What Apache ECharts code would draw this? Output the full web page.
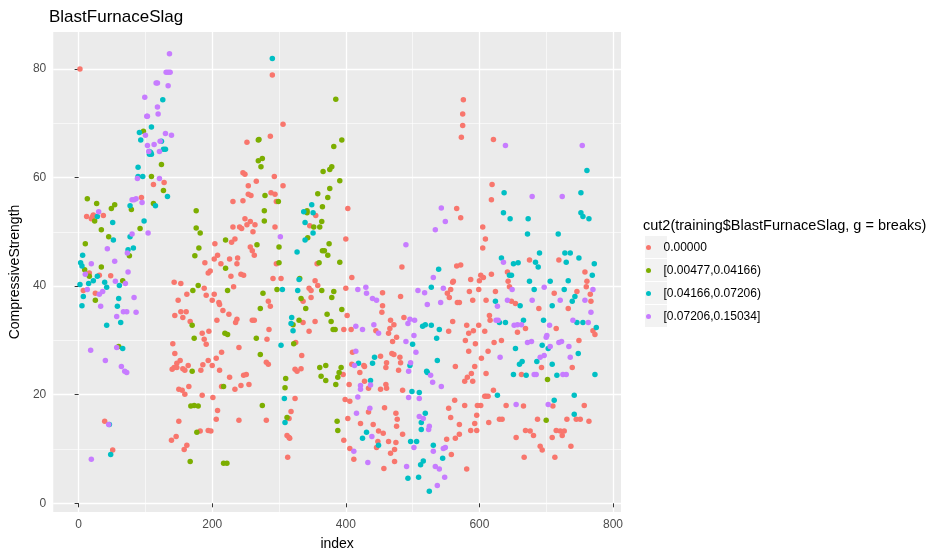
<!DOCTYPE html>
<html>
<head>
<meta charset="utf-8">
<title>BlastFurnaceSlag</title>
<script src="https://cdn.jsdelivr.net/npm/echarts@6.0.0/dist/echarts.min.js"></script>
<style>
html, body { margin: 0; padding: 0; background: #fff; }
#chart { width: 945px; height: 556px; }
</style>
</head>
<body>
<div id="chart"></div>
<script>
// legend levels of cut2(training$BlastFurnaceSlag, g = breaks)
var levels = ['0.00000', '[0.00477,0.04166)', '[0.04166,0.07206)', '[0.07206,0.15034]'];
var xTicks = [0, 200, 400, 600, 800];
var xMinor = [100, 300, 500, 700];
var yTicks = [0, 20, 40, 60, 80];
var yMinor = [10, 30, 50, 70];

// [index, CompressiveStrength]
var slagZero = [
  [2,80.0],[12,52.8],[21,52.8],[22,53.1],[19,52.4],[37,53.0],[16,42.4],[31,42.0],[48,41.9],
  [128,59.1],[112,58.7],[94,56.3],[231,55.6],[246,55.7],[252,66.5],[246,60.9],[249,60.6],
  [231,50.9],[241,50.9],[244,50.6],[249,52.4],[234,48.7],[229,48.1],[204,47.8],[208,45.7],
  [203,45.0],[213,44.1],[226,45.0],[237,44.1],[238,45.2],[189,44.3],[197,42.8],[194,42.4],
  [243,42.2],[247,42.0],
  [228,41.8],[7,39.2],[25,38.7],[39,15.1],[51,9.8],[143,40.7],[153,40.5],[188,39.6],[162,38.5],
  [191,38.3],[203,38.5],[232,39.9],[149,37.4],[200,37.4],[210,37.0],[211,36.6],[216,35.5],
  [225,34.8],[153,35.3],[161,35.3],[144,34.6],[156,34.2],[167,33.5],[207,33.7],[237,33.9],
  [235,33.3],[195,31.7],[185,31.3],[188,30.2],[191,29.3],[141,29.4],[240,28.7],[214,27.8],
  [144,27.6],[206,26.7],[194,26.3],[152,26.3],[147,25.8],[164,25.4],[186,25.5],[200,25.4],
  [140,24.7],[143,25.0],[147,25.0],[156,24.8],[159,24.5],[183,24.5],[211,24.5],[226,23.2],
  [247,23.6],[165,21.5],[150,21.0],[155,20.8],[159,20.1],[214,21.5],[243,21.7],[234,21.0],
  [185,19.9],[201,19.5],[208,17.1],[206,15.5],[240,15.3],[150,15.1],[182,13.3],[194,13.4],
  [198,13.3],[146,12.3],[139,11.6],[162,10.7],[158,9.9],
  [290,78.9],[306,69.8],[287,67.6],[293,60.2],[254,58.5],[266,59.3],[306,58.5],[254,56.9],
  [258,56.7],[288,57.2],[294,56.9],[296,55.6],[403,54.3],[355,53.0],[257,51.9],[252,51.3],
  [264,51.3],[294,50.9],[346,51.1],[261,50.0],[400,48.7],[257,47.2],[260,46.5],[263,45.7],
  [296,44.1],[357,44.1],[484,43.5],
  [251,23.7],[255,21.9],[291,41.4],[303,41.4],[354,41.0],[358,40.1],[409,41.6],[345,39.6],
  [348,39.2],[400,39.6],[455,38.8],[482,38.1],[348,37.9],[336,37.2],[284,37.2],[287,36.3],
  [455,36.4],[454,35.2],[402,34.6],[260,33.7],[263,33.7],[336,33.3],[354,33.5],[467,33.7],
  [472,32.9],[487,34.2],[285,32.0],[345,31.7],[397,32.0],[408,32.0],[445,31.8],[466,32.2],
  [464,31.3],[476,30.6],[470,29.8],[282,30.2],[325,29.6],[334,27.2],[281,26.0],[284,25.6],
  [410,27.8],[452,27.1],[469,27.6],[472,27.4],[461,25.9],[460,25.0],[481,26.9],[482,25.9],
  [479,24.5],[409,25.6],[427,25.4],[428,25.2],[421,24.1],[324,24.7],[327,24.3],[333,24.8],
  [396,23.7],[405,21.9],[428,22.5],[434,21.2],[452,21.0],[460,21.9],[461,21.2],[485,20.8],
  [399,19.1],[406,18.8],[324,19.3],[458,17.6],[434,16.8],[475,16.6],[318,16.9],[315,15.6],
  [281,15.3],[403,15.6],[477,15.5],[422,14.7],[441,14.5],[476,14.2],[449,13.3],[456,12.9],
  [485,12.7],[312,12.5],[315,12.1],[316,12.0],[397,11.6],[448,11.4],[446,10.3],[464,11.4],
  [475,11.2],[406,10.1],[412,8.1],[473,9.9],[467,9.2],[473,7.7],[457,6.4],[313,8.5],
  [576,74.3],[575,71.7],[575,69.6],[573,67.4],[621,67.0],[619,58.7],[618,55.9],[566,54.3],
  [572,52.6],[605,50.9],[609,48.7],[605,47.0],[675,44.8],[719,44.8],[566,43.7],[572,43.9],
  [642,42.6],[758,42.6],[602,42.0],[618,42.2],
  [606,41.6],[560,40.7],[561,40.9],[587,41.2],[600,41.0],[761,40.9],[760,39.9],[557,39.4],
  [552,38.7],[555,37.9],[585,39.0],[599,39.4],[624,39.0],[645,39.9],[643,40.9],[712,38.7],
  [746,39.0],[766,38.5],[767,37.2],[567,37.0],[570,37.0],[590,37.4],[610,37.4],[648,37.2],
  [654,36.8],[689,35.9],[733,35.9],[615,34.6],[616,33.7],[560,33.5],[554,31.7],[581,32.8],
  [599,32.8],[591,31.8],[584,31.3],[608,31.7],[669,32.2],[657,31.5],[715,32.2],[770,31.8],
  [773,31.1],[579,30.0],[594,29.4],[622,29.6],[633,30.0],[749,30.0],[584,28.0],[613,28.0],
  [603,26.7],[564,25.2],[593,25.2],[693,25.0],[739,25.0],[588,23.9],[582,23.2],[578,22.5],
  [590,22.5],[610,23.9],[663,23.7],[621,20.8],[608,19.7],[610,19.7],[613,19.7],[563,19.0],
  [578,18.0],[597,18.0],[602,18.0],[640,18.0],[666,17.9],[710,17.9],[757,18.0],[554,17.5],
  [596,16.2],[557,15.8],[630,15.5],[634,15.5],[687,15.5],[731,15.5],[745,15.5],[751,15.5],
  [764,15.1],[614,14.9],[570,14.5],[593,14.7],[587,13.4],[596,13.4],[570,12.7],[564,12.0],
  [669,13.4],[676,13.3],[681,12.5],[655,12.1],[715,13.4],[721,13.3],[724,12.5],[727,13.3],
  [709,12.1],[551,11.8],[691,10.5],[694,9.8],[737,10.5],[558,9.0],[667,8.5],[713,8.5],[581,6.3]
];

var slagLow = [
  [97,68.5],[124,62.4],[109,60.2],[127,57.6],[112,55.2],[79,54.1],[13,56.1],[27,55.2],[49,54.3],
  [54,55.0],[24,52.0],[34,50.4],[92,50.6],[45,49.1],[10,47.8],[76,45.6],[34,43.5],[9,43.0],
  [176,53.9],[176,50.7],[182,49.8],[174,45.6],[180,47.0],[220,48.5],[220,43.3],
  [16,41.8],[66,41.0],[25,37.4],[60,28.9],[179,40.1],[171,39.2],[223,39.2],[170,32.8],
  [219,31.3],[223,31.1],[173,30.4],[170,24.3],[217,21.5],[168,17.9],[173,18.0],[179,17.9],
  [177,13.1],[167,7.7],[217,7.4],[222,7.4],
  [385,74.4],[269,66.9],[270,67.0],[394,66.9],[382,65.7],[269,63.1],[275,63.5],[273,62.0],
  [366,61.1],[376,61.5],[379,62.0],[391,59.4],[279,56.7],[358,57.0],[373,56.3],[376,58.0],
  [299,55.6],[365,54.6],[278,53.9],[342,53.5],[342,53.9],[278,52.0],[352,50.9],[361,50.9],
  [364,51.9],[343,48.9],[267,47.6],[300,47.2],[375,47.8],[365,46.5],[368,46.5],[373,45.7],
  [300,44.3],[360,44.3],[391,44.4],
  [331,41.4],[297,39.4],[364,39.2],[382,39.0],[276,38.7],[333,37.7],[379,37.9],[272,35.9],
  [340,35.9],[394,35.7],[372,34.8],[321,32.9],[330,33.7],[378,33.5],[381,32.0],[384,32.0],
  [266,30.4],[322,29.4],[272,27.4],[361,25.0],[370,25.4],[393,25.0],[390,24.1],[388,23.2],
  [363,23.4],[370,22.6],[310,23.0],[309,21.3],[385,21.9],[275,18.0],[312,15.8],[387,15.1],
  [388,13.4],[702,22.8],[700,15.3]
];

var slagMid = [
  [126,74.3],[91,68.3],[109,69.3],[93,66.9],[124,66.7],[127,65.2],[130,65.2],[106,64.8],
  [108,64.6],[109,64.3],[106,64.3],[89,61.9],[89,60.2],[96,60.2],[133,56.5],[115,54.8],
  [77,54.8],[28,52.8],[51,51.7],[98,52.0],[52,48.5],[77,49.1],[6,45.7],[74,46.7],[82,47.0],
  [3,44.3],[5,43.7],
  [28,41.8],[2,40.3],[15,40.5],[22,41.0],[39,40.7],[42,39.8],[61,40.1],[7,38.1],[5,36.4],
  [60,37.7],[58,36.3],[63,33.3],[42,32.8],[66,28.5],[46,14.5],[48,9.0],
  [290,81.9],[349,55.0],[337,53.7],[351,53.5],[339,51.7],[351,49.8],[339,48.5],[327,46.3],
  [330,41.2],[305,39.4],[328,39.2],[528,39.8],[319,34.2],[318,33.1],[321,31.8],[515,32.6],
  [519,32.9],[528,32.8],[500,29.3],[303,29.1],[443,26.9],[440,25.8],[496,25.4],[521,24.3],
  [522,24.1],[419,25.8],[437,22.6],[499,20.6],[510,20.4],[308,19.3],[519,16.6],[309,14.9],
  [513,14.9],[513,13.6],[431,13.1],[425,12.0],[449,10.7],[497,11.4],[506,11.4],[531,10.7],
  [516,7.8],[512,7.1],[493,4.6],[509,4.8],[525,2.2],
  [761,61.3],[637,57.2],[752,57.2],[636,53.5],[646,52.4],[673,52.4],[752,53.5],[755,52.8],
  [764,52.4],[672,49.6],[718,49.6],[690,46.1],[728,46.1],[736,46.1],[633,45.2],[730,44.4],
  [749,45.2],[651,44.1],[658,44.3],[684,44.4],[688,43.5],[772,44.1],[539,43.1],[645,42.0],
  [648,42.0],[769,42.0],
  [675,40.9],[706,40.9],[733,41.0],[682,39.4],[727,39.4],[743,38.1],[624,37.2],[661,36.4],
  [709,36.4],[739,37.2],[630,33.3],[639,33.3],[666,33.7],[696,33.7],[746,33.3],[755,33.3],
  [775,32.4],[540,32.0],[536,30.4],[694,29.1],[703,28.5],[654,28.5],[748,27.6],[537,26.3],
  [664,26.1],[660,25.6],[686,26.1],[709,25.6],[651,23.7],[670,23.6],[716,23.6],[773,23.7],
  [627,19.9],[742,19.9],[712,19.0],[742,16.4],[545,8.3]
];

var slagHigh = [
  [136,82.8],[131,79.4],[134,79.4],[137,79.4],[116,77.4],[118,77.4],[134,76.9],[99,74.8],
  [118,73.0],[102,71.3],[103,71.3],[119,71.7],[100,67.8],[130,68.1],[139,67.8],[122,66.7],
  [103,65.9],[113,66.1],[121,64.8],[105,64.8],[121,59.8],[88,59.8],[80,55.9],[83,55.9],
  [86,56.1],[95,55.4],[30,53.7],[80,49.6],[104,49.8],[43,46.9],[73,46.1],[54,44.6],[19,44.1],
  [10,42.2],[74,42.6],
  [70,40.5],[55,40.9],[13,39.4],[31,38.5],[36,39.0],[33,36.3],[83,37.9],[67,35.3],[72,35.3],
  [86,35.2],[57,34.4],[18,28.2],[57,28.7],[40,26.3],[64,25.2],[69,24.3],[72,24.1],[45,14.5],
  [19,8.1],
  [302,49.1],[490,47.6],
  [418,39.4],[430,39.8],[431,38.7],[508,39.2],[518,38.8],[440,37.7],[446,37.4],[522,36.6],
  [493,33.1],[496,33.9],[503,33.7],[442,32.9],[415,32.6],[425,32.0],[449,31.3],[490,29.8],
  [502,30.9],[415,28.0],[505,27.8],[497,25.9],[494,24.3],[527,23.6],[530,22.3],[413,25.4],
  [422,21.7],[422,21.0],[437,21.8],[494,19.5],[510,19.3],[418,19.6],[436,17.5],[416,16.6],
  [510,16.0],[516,15.6],[525,14.2],[524,13.6],[439,12.3],[502,10.3],[531,9.6],[412,9.6],
  [433,7.5],[491,6.8],
  [639,65.9],[754,65.9],[679,56.5],[724,56.5],[543,54.4],[549,51.9],[534,50.4],[636,44.4],
  [531,41.6],[546,39.6],[649,39.4],[697,39.8],[770,39.4],[542,37.0],[627,36.3],[642,37.4],
  [679,37.4],[721,37.4],[758,37.4],[767,35.2],[625,33.7],[628,33.7],[740,33.7],[763,33.3],
  [652,32.8],[657,32.9],[663,32.9],[705,32.8],[672,29.6],[678,29.8],[701,30.9],[700,30.6],
  [719,29.6],[723,29.8],[734,28.9],[706,28.9],[631,26.9],[697,27.2],[691,26.9],[736,26.9],
  [682,23.7],[685,23.7],[725,23.7],[730,23.7],[543,21.5],[655,18.2],[703,18.2],[546,10.1],
  [549,10.3],[534,6.8],[540,6.3],[548,4.8],[537,3.3]
];

var colors = ['#F8766D', '#7CAE00', '#00BFC4', '#C77CFF'];
var groups = [slagZero, slagLow, slagMid, slagHigh];
var font = 'Liberation Sans, Arial, sans-serif';

var myChart = echarts.init(document.getElementById('chart'));

// gray key boxes behind the legend dots (ggplot legend.key)
var keyBoxes = levels.map(function (lv, i) {
    return {
        type: 'rect',
        left: 645,
        top: 236 + i * 23,
        shape: { width: 22, height: 22 },
        style: { fill: '#F2F2F2' },
        silent: true
    };
});

function minorAxis(vals) {
    return {
        type: 'value',
        gridIndex: 0,
        show: true,
        axisLine: { show: false },
        axisLabel: { show: false, customValues: vals },
        axisTick: { show: false, customValues: vals },
        splitLine: { show: true, lineStyle: { color: '#FFFFFF', width: 0.6 } }
    };
}

var xMinorAxis = minorAxis(xMinor);
xMinorAxis.min = -38; xMinorAxis.max = 812; xMinorAxis.position = 'bottom';
var yMinorAxis = minorAxis(yMinor);
yMinorAxis.min = -1.6; yMinorAxis.max = 86.8; yMinorAxis.position = 'left';

option = {
    animation: false,
    backgroundColor: '#FFFFFF',
    color: colors,
    title: [{
        text: 'BlastFurnaceSlag',
        left: 49,
        top: 8,
        padding: 0,
        textStyle: { fontFamily: font, fontSize: 17, fontWeight: 'normal', color: '#000', lineHeight: 18 }
    }, {
        text: 'cut2(training$BlastFurnaceSlag, g = breaks)',
        left: 643,
        top: 218,
        padding: 0,
        textStyle: { fontFamily: font, fontSize: 14.5, fontWeight: 'normal', color: '#000', lineHeight: 16 }
    }],
    legend: {
        orient: 'vertical',
        left: 646,
        top: 236,
        padding: 0,
        itemGap: 0,
        itemWidth: 20,
        itemHeight: 5,
        icon: 'circle',
        textStyle: { fontFamily: font, fontSize: 12, color: '#000', lineHeight: 23 },
        data: levels
    },
    graphic: keyBoxes,
    grid: {
        left: 50,
        right: 324,
        top: 32,
        bottom: 44,
        show: true,
        backgroundColor: '#EBEBEB',
        borderWidth: 0
    },
    xAxis: [{
        type: 'value',
        min: -38,
        max: 812,
        name: 'index',
        nameLocation: 'middle',
        nameGap: 25,
        nameTextStyle: { fontFamily: font, fontSize: 14, color: '#000' },
        axisLine: { show: false },
        axisTick: { show: true, length: 4, customValues: xTicks, lineStyle: { color: '#333333' } },
        axisLabel: { customValues: xTicks, margin: 7, fontFamily: font, fontSize: 12, color: '#4D4D4D' },
        splitLine: { show: true, lineStyle: { color: '#FFFFFF', width: 1.3 } }
    }, xMinorAxis],
    yAxis: [{
        type: 'value',
        min: -1.6,
        max: 86.8,
        name: 'CompressiveStrength',
        nameLocation: 'middle',
        nameRotate: 90,
        nameGap: 28,
        nameTextStyle: { fontFamily: font, fontSize: 14, color: '#000' },
        axisLine: { show: false },
        axisTick: { show: true, length: 4, customValues: yTicks, lineStyle: { color: '#333333' } },
        axisLabel: { customValues: yTicks, margin: 7, fontFamily: font, fontSize: 12, color: '#4D4D4D' },
        splitLine: { show: true, lineStyle: { color: '#FFFFFF', width: 1.3 } }
    }, yMinorAxis],
    series: groups.map(function (pts, i) {
        return {
            name: levels[i],
            type: 'scatter',
            xAxisIndex: 0,
            yAxisIndex: 0,
            symbolSize: 5.5,
            itemStyle: { color: colors[i], opacity: 1 },
            data: pts
        };
    })
};
myChart.setOption(option);
</script>
</body>
</html>
